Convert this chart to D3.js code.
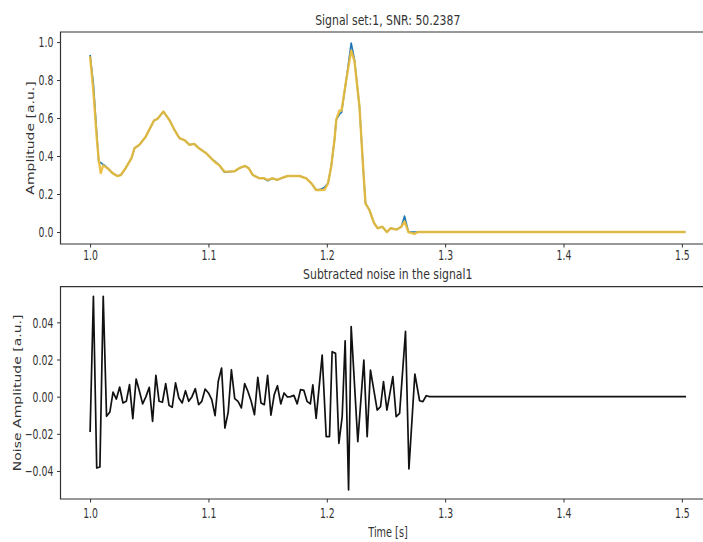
<!DOCTYPE html>
<html><head><meta charset="utf-8">
<script src="https://cdn.jsdelivr.net/npm/d3@7"></script>
<style>body{margin:0;background:#fff} svg{display:block}</style>
</head><body>
<svg id="c" width="703" height="542"></svg>
<script>
// ---- data ----
const sigTime = [1.0000,1.0028,1.0056,1.0073,1.0090,1.0110,1.0125,1.0150,1.0190,1.0230,1.0260,1.0300,1.0350,1.0375,1.0417,1.0470,1.0540,1.0570,1.0620,1.0670,1.0710,1.0755,1.0800,1.0840,1.0880,1.0920,1.0980,1.1036,1.1060,1.1090,1.1135,1.1180,1.1220,1.1260,1.1310,1.1340,1.1375,1.1430,1.1470,1.1500,1.1540,1.1580,1.1630,1.1670,1.1770,1.1826,1.1870,1.1910,1.1950,1.1980,1.2010,1.2037,1.2065,1.2080,1.2107,1.2125,1.2164,1.2206,1.2234,1.2276,1.2310,1.2327,1.2360,1.2400,1.2430,1.2470,1.2507,1.2540,1.2590,1.2630,1.2657,1.2690,1.2740,1.2770,1.5030];
const sigOriginal = [0.933,0.78,0.52,0.37,0.365,0.355,0.35,0.335,0.31,0.295,0.30,0.336,0.389,0.441,0.459,0.502,0.587,0.596,0.634,0.590,0.541,0.494,0.483,0.459,0.464,0.441,0.415,0.380,0.37,0.353,0.315,0.318,0.320,0.336,0.348,0.336,0.300,0.283,0.283,0.27,0.283,0.274,0.287,0.295,0.295,0.283,0.256,0.221,0.225,0.235,0.256,0.344,0.485,0.59,0.62,0.63,0.80,0.995,0.907,0.66,0.31,0.151,0.116,0.046,0.020,0.028,0.0,0.02,0.013,0.028,0.084,0.0,0.0,0.0,0.0];
const sigDenoised = [0.925,0.74,0.50,0.38,0.31,0.35,0.345,0.335,0.31,0.295,0.30,0.336,0.389,0.441,0.459,0.502,0.587,0.596,0.634,0.590,0.541,0.494,0.483,0.459,0.464,0.441,0.415,0.380,0.365,0.353,0.318,0.318,0.320,0.336,0.348,0.336,0.300,0.283,0.283,0.274,0.283,0.274,0.287,0.295,0.295,0.283,0.256,0.221,0.221,0.222,0.256,0.344,0.485,0.59,0.64,0.64,0.80,0.955,0.90,0.66,0.31,0.151,0.116,0.046,0.020,0.028,0.0,0.02,0.013,0.028,0.055,0.0,-0.01,0.0,0.0];
const noiseTime = [1.0000,1.0028,1.0056,1.0083,1.0111,1.0139,1.0167,1.0194,1.0222,1.0250,1.0278,1.0306,1.0333,1.0361,1.0389,1.0417,1.0444,1.0472,1.0500,1.0528,1.0556,1.0583,1.0611,1.0639,1.0667,1.0694,1.0722,1.0750,1.0778,1.0806,1.0833,1.0861,1.0889,1.0917,1.0944,1.0972,1.1000,1.1028,1.1056,1.1083,1.1111,1.1139,1.1167,1.1194,1.1222,1.1250,1.1278,1.1306,1.1333,1.1361,1.1389,1.1417,1.1444,1.1472,1.1500,1.1528,1.1556,1.1583,1.1611,1.1639,1.1667,1.1694,1.1722,1.1750,1.1778,1.1806,1.1833,1.1861,
  1.1882,1.1910,1.1961,1.1995,1.2023,1.2045,1.2074,1.2102,1.2130,1.2155,1.2184,1.2206,1.2262,1.2313,1.2341,1.2369,1.2426,1.2454,1.2479,1.2508,1.2558,1.2586,1.2615,1.2665,1.2694,1.2744,1.2784,1.2812,1.2840,1.2868,1.5035];
const noiseValue = [-0.019,0.054,-0.0384,-0.0379,0.054,-0.0106,-0.0083,0.0025,-0.0013,0.0052,
  -0.0034,-0.0025,0.0065,-0.0118,0.0095,0.0029,-0.0039,0.0,0.005,-0.0133,
  0.0115,-0.0025,-0.003,0.007,-0.0047,-0.0057,0.0074,-0.0007,-0.0034,0.0032,
  -0.0025,0.0,0.0043,-0.0043,-0.0025,0.0041,0.002,-0.0016,-0.0102,0.0083,
  0.0154,-0.0169,-0.0083,0.0145,-0.0011,-0.0025,-0.0061,0.007,0.0029,-0.0025,
  -0.0097,0.0104,-0.0034,-0.0043,0.0115,-0.01,0.0011,0.0059,-0.0039,0.002,
  -0.0002,0.0,0.0007,-0.0039,0.0038,0.0034,-0.0025,-0.0039,
  0.0063,-0.0117,0.0224,-0.0215,-0.0215,0.0242,0.0233,-0.0251,-0.0108,0.0301,-0.0502,0.0377,-0.0242,0.0197,-0.0215,0.0143,-0.0072,-0.0054,0.0081,-0.0072,0.0108,-0.0108,-0.009,0.0351,-0.0389,0.0122,-0.0022,-0.0027,0.0005,0.0,0.0];
const xTicks = [1.0,1.1,1.2,1.3,1.4,1.5];
const yTicksTop = [0.0,0.2,0.4,0.6,0.8,1.0];
const yTicksBottom = [-0.04,-0.02,0.00,0.02,0.04];
const titleTop = "Signal set:1, SNR: 50.2387";
const titleBottom = "Subtracted noise in the signal1";
const yLabelTop = "Amplitude [a.u.]";
const yLabelBottom = "Noise Amplitude [a.u.]";
const xLabel = "Time [s]";

// ---- layout ----
const svg = d3.select("#c");
const FONT = "DejaVu Sans, sans-serif";
const SX = 0.69;          // horizontal squeeze of the picture's text
const TS = 13.5;          // tick font size
const L = 60.5, R = 715;
const x = d3.scaleLinear().domain([0.975, 1.528]).range([L, R]);
const yT = d3.scaleLinear().domain([-0.063, 1.053]).range([244, 32]);
const yB = d3.scaleLinear().domain([-0.0551, 0.0592]).range([499, 286.7]);

function panel(y, yTicks, fmt, top, bottom, labelX, label, xLabBase) {
  const gx = svg.append("g").attr("transform", `translate(0,${bottom})`)
    .call(d3.axisBottom(x).tickValues(xTicks).tickFormat(d3.format(".1f")).tickSize(3.5).tickSizeOuter(0));
  gx.select(".domain").remove();
  gx.selectAll("line").attr("stroke", "#333");
  gx.selectAll("text").attr("y", xLabBase).attr("dy", 0)
    .attr("font-family", FONT).attr("font-size", TS).attr("fill", "#333")
    .attr("transform", `scale(${SX},1)`);
  const gy = svg.append("g").attr("transform", `translate(${L},0)`)
    .call(d3.axisLeft(y).tickValues(yTicks).tickFormat(d3.format(fmt)).tickSize(3.5).tickSizeOuter(0));
  gy.select(".domain").remove();
  gy.selectAll("line").attr("stroke", "#333");
  gy.selectAll("text").attr("x", -7.2 / SX).attr("dy", "0.36em")
    .attr("font-family", FONT).attr("font-size", TS).attr("fill", "#333")
    .attr("transform", `scale(${SX},1)`);
  svg.append("path").attr("d", `M${R},${top}H${L}V${bottom}H${R}`)
    .attr("fill", "none").attr("stroke", "#333").attr("stroke-width", 1.2);
  svg.append("text").text(label)
    .attr("transform", `translate(${labelX},${(top + bottom) / 2}) scale(0.72,1) rotate(-90)`)
    .attr("text-anchor", "middle").attr("dy", "0.35em")
    .attr("font-family", FONT).attr("font-size", 14).attr("fill", "#333");
}

panel(yT, yTicksTop, ".1f", 32, 244, 30.7, yLabelTop, 16.5);
panel(yB, yTicksBottom, ".2f", 286.7, 499, 17.3, yLabelBottom, 19.5);

function title(txt, cx, base, size, sx) {
  svg.append("text").text(txt)
    .attr("transform", `translate(${cx},${base}) scale(${sx},1)`)
    .attr("text-anchor", "middle")
    .attr("font-family", FONT).attr("font-size", size).attr("fill", "#333");
}
const cx = (L + R) / 2;
title(titleTop, cx, 24.5, 14.5, 0.75);
title(titleBottom, cx, 279, 14.5, 0.75);
title(xLabel, 388, 537, 13.5, 0.72);

// ---- lines ----
const sig = sigTime.map((t, i) => ({t, a: sigOriginal[i], b: sigDenoised[i]}));
svg.append("clipPath").attr("id", "ct").append("rect").attr("x", L).attr("y", 32).attr("width", R - L).attr("height", 212);
svg.append("path").datum(sig).attr("clip-path", "url(#ct)")
  .attr("d", d3.line().x(d => x(d.t)).y(d => yT(d.a)))
  .attr("fill", "none").attr("stroke", "#1f77b4").attr("stroke-width", 1.6).attr("stroke-linejoin", "round");
svg.append("path").datum(sig).attr("clip-path", "url(#ct)")
  .attr("d", d3.line().x(d => x(d.t)).y(d => yT(d.b)))
  .attr("fill", "none").attr("stroke", "#e9bc3a").attr("stroke-width", 2.4).attr("stroke-opacity", 0.92).attr("stroke-linejoin", "round");

const nz = noiseTime.map((t, i) => ({t, v: noiseValue[i]}));
svg.append("path").datum(nz)
  .attr("d", d3.line().x(d => x(d.t)).y(d => yB(d.v)))
  .attr("fill", "none").attr("stroke", "#111").attr("stroke-width", 1.7).attr("stroke-linejoin", "round");
</script>
</body></html>
